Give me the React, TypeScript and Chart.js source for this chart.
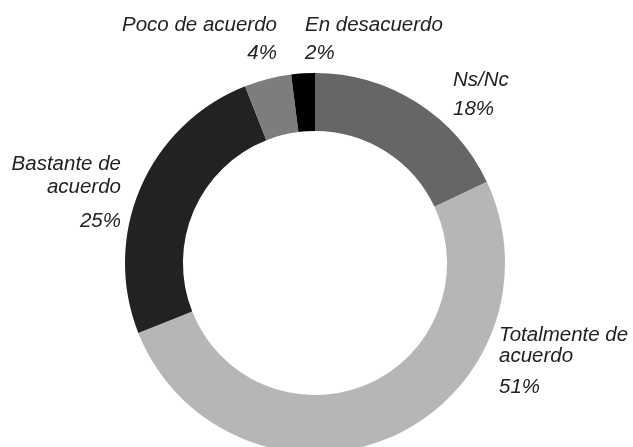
import React, { useEffect, useRef } from "react";
import { Chart, registerables } from "chart.js";

Chart.register(...registerables);

const categories = ["Ns/Nc", "Totalmente de acuerdo", "Bastante de acuerdo", "Poco de acuerdo", "En desacuerdo"];
const values = [18, 51, 25, 4, 2];
const colors = ["#666666", "#b6b6b6", "#222222", "#7d7d7d", "#000000"];
const labelLines = [["Ns/Nc"], ["Totalmente de", "acuerdo"], ["Bastante de", "acuerdo"], ["Poco de acuerdo"], ["En desacuerdo"]];

// label layout (text placement only)
const labelLayout = [
  { x: 453, y: 86, align: "left", lineGap: 22, pctGap: 29 },
  { x: 499, y: 341, align: "left", lineGap: 21, pctGap: 31 },
  { x: 121, y: 170, align: "right", lineGap: 23, pctGap: 34 },
  { x: 277, y: 31, align: "right", lineGap: 22, pctGap: 28 },
  { x: 305, y: 31, align: "left", lineGap: 22, pctGap: 28 },
];

const labelPlugin = {
  id: "outerLabels",
  afterDraw(chart: any) {
    const ctx = chart.ctx;
    ctx.save();
    ctx.font = 'italic 20.5px "Liberation Sans", Arial, sans-serif';
    ctx.fillStyle = "#222222";
    ctx.textBaseline = "alphabetic";
    labelLines.forEach((lines, i) => {
      const l = labelLayout[i];
      ctx.textAlign = l.align;
      let y = l.y;
      lines.forEach((t, k) => {
        if (k > 0) y += l.lineGap;
        ctx.fillText(t, l.x, y);
      });
      ctx.fillText(values[i] + "%", l.x, y + l.pctGap);
    });
    ctx.restore();
  },
};

export default function App() {
  const ref = useRef<HTMLCanvasElement | null>(null);
  useEffect(() => {
    document.body.style.margin = "0";
    const chart = new Chart(ref.current as HTMLCanvasElement, {
      type: "doughnut",
      data: {
        labels: categories,
        datasets: [
          {
            data: values,
            backgroundColor: colors,
            borderWidth: 0,
          },
        ],
      },
      options: {
        animation: false,
        responsive: true,
        maintainAspectRatio: false,
        cutout: "69.5%",
        layout: { padding: { top: 73, bottom: 7, left: 0, right: 3 } },
        plugins: {
          legend: { display: false },
          tooltip: { enabled: false },
        },
      },
      plugins: [labelPlugin],
    } as any);
    return () => chart.destroy();
  }, []);
  return (
    <div style={{ position: "absolute", left: 0, top: 0, width: 633, height: 447, overflow: "hidden", background: "#fff" }}>
      <div style={{ position: "relative", width: 633, height: 460 }}>
        <canvas ref={ref} />
      </div>
    </div>
  );
}
